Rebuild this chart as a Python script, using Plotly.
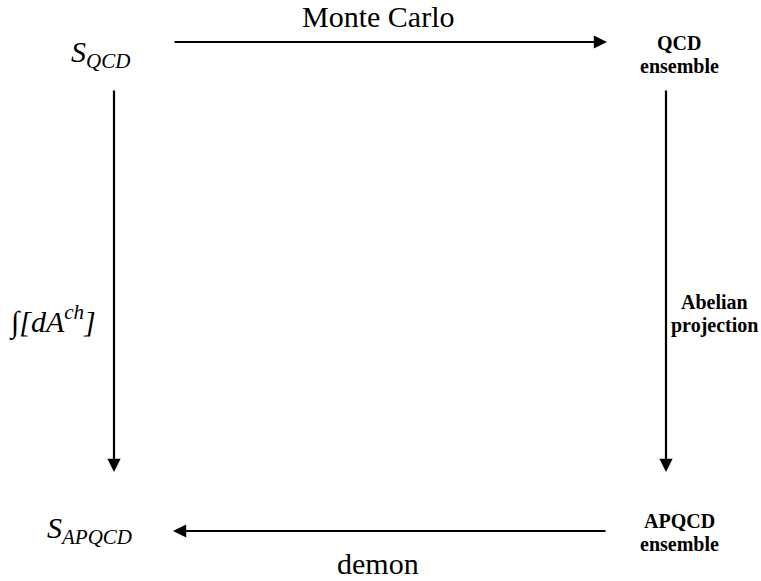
import plotly.graph_objects as go

# Node labels of the commutative diagram (one entry per text line)
qcd_action = "<i>S<sub>QCD</sub></i>"
qcd_ensemble = ["QCD", "ensemble"]
apqcd_action = "<i>S<sub>APQCD</sub></i>"
apqcd_ensemble = ["APQCD", "ensemble"]
# Edge labels
top_label = "Monte Carlo"
left_label = "<i>∫[dA<sup>ch</sup>]</i>"
right_label = ["Abelian", "projection"]
bottom_label = "demon"

W, H = 761, 581
fig = go.Figure()
fig.add_trace(go.Scatter(x=[0, W], y=[0, H], mode="markers", marker=dict(opacity=0),
                         hoverinfo="skip", showlegend=False))

serif = "Liberation Serif"

def arrow(x0, y0, x1, y1):
    fig.add_annotation(x=x1, y=y1, ax=x0, ay=y0, xref="x", yref="y", axref="x", ayref="y",
                       showarrow=True, arrowhead=2, arrowsize=1.2, arrowwidth=2.2,
                       arrowcolor="black", text="")

arrow(173, 42, 607, 42)
arrow(114, 89, 114, 472)
arrow(666, 89, 666, 472)
arrow(607, 531, 173, 531)

def label(x, baseline, text, size, bold=False):
    fig.add_annotation(x=x, y=baseline - 0.32 * size, xref="x", yref="y",
                       text=("<b>%s</b>" % text) if bold else text,
                       showarrow=False, align="center", yanchor="middle",
                       font=dict(family=serif, size=size, color="black"))

label(100, 64, qcd_action, 30)
label(679, 49, qcd_ensemble[0], 20, bold=True)
label(679, 72.5, qcd_ensemble[1], 20, bold=True)
label(89, 540, apqcd_action, 30)
label(679, 527, apqcd_ensemble[0], 20, bold=True)
label(679, 550.5, apqcd_ensemble[1], 20, bold=True)
label(378, 26, top_label, 30)
label(52, 330, left_label, 30)
label(714, 308, right_label[0], 20, bold=True)
label(714, 332, right_label[1], 20, bold=True)
label(378, 573, bottom_label, 30)

fig.update_xaxes(range=[0, W], visible=False, fixedrange=True)
fig.update_yaxes(range=[H, 0], visible=False, fixedrange=True)
fig.update_layout(width=W, height=H, margin=dict(l=0, r=0, t=0, b=0),
                  plot_bgcolor="white", paper_bgcolor="white", showlegend=False)
fig.write_html("out.html", config={"displayModeBar": False},
               post_script="document.body.style.margin='0';document.body.style.overflow='hidden';")
